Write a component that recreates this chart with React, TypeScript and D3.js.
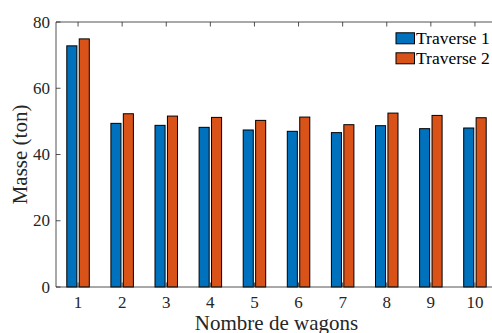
import React from "react";
import * as d3 from "d3";

const categories = [1, 2, 3, 4, 5, 6, 7, 8, 9, 10];
const traverse1 = [72.8, 49.4, 48.8, 48.2, 47.4, 47.0, 46.6, 48.7, 47.8, 48.0];
const traverse2 = [74.9, 52.3, 51.6, 51.2, 50.3, 51.3, 49.0, 52.5, 51.8, 51.1];
const seriesNames = ["Traverse 1", "Traverse 2"];
const seriesColors = ["#0072BD", "#D95319"];
const yTicks = [0, 20, 40, 60, 80];

const W = 492;
const H = 333;
const left = 56;
const right = 497;
const top = 22;
const bottom = 287;
const FONT = '"Liberation Serif", "Times New Roman", Times, serif';
const AX = "#262626";

export default function App() {
  const x = d3.scaleLinear().domain([0.5, 10.5]).range([left, right]);
  const y = d3.scaleLinear().domain([0, 80]).range([bottom, top]);
  const unit = x(2) - x(1);
  const inner = d3
    .scaleBand<string>()
    .domain(seriesNames)
    .range([-0.255 * unit, 0.255 * unit])
    .paddingInner(0.19);
  const data = [traverse1, traverse2];
  const tl = 4.5;

  return (
    <svg
      width={W}
      height={H}
      style={{ position: "absolute", left: 0, top: 0, display: "block", fontFamily: FONT }}
    >
      <rect x={0} y={0} width={W} height={H} fill="#fff" />
      {data.map((vals, si) =>
        vals.map((v, i) => (
          <rect
            key={`b${si}-${i}`}
            x={x(categories[i]) + (inner(seriesNames[si]) as number)}
            y={y(v)}
            width={inner.bandwidth()}
            height={y(0) - y(v)}
            fill={seriesColors[si]}
            stroke="#000"
            strokeWidth={1}
          />
        ))
      )}
      <g stroke={AX} strokeWidth={0.8} fill="none">
        <line x1={left} x2={right} y1={bottom} y2={bottom} />
        <line x1={left} x2={right} y1={top} y2={top} />
        <line x1={left} x2={left} y1={top} y2={bottom} />
        <line x1={right} x2={right} y1={top} y2={bottom} />
        {categories.map((c) => (
          <g key={`xt${c}`}>
            <line x1={x(c)} x2={x(c)} y1={bottom} y2={bottom - tl} />
            <line x1={x(c)} x2={x(c)} y1={top} y2={top + tl} />
          </g>
        ))}
        {yTicks.map((t) => (
          <g key={`yt${t}`}>
            <line x1={left} x2={left + tl} y1={y(t)} y2={y(t)} />
            <line x1={right} x2={right - tl} y1={y(t)} y2={y(t)} />
          </g>
        ))}
      </g>
      <g fill={AX} fontSize={17} style={{ fontFamily: FONT }}>
        {categories.map((c) => (
          <text key={`xl${c}`} x={x(c)} y={307.5} textAnchor="middle">
            {c}
          </text>
        ))}
        {yTicks.map((t) => (
          <text
            key={`yl${t}`}
            x={50}
            y={y(t)}
            textAnchor="end"
            dominantBaseline="central"
          >
            {t}
          </text>
        ))}
      </g>
      <text
        x={(left + right) / 2}
        y={329.5}
        textAnchor="middle"
        fontSize={21}
        fill={AX}
        style={{ fontFamily: FONT }}
      >
        Nombre de wagons
      </text>
      <text
        transform={`translate(27, ${(top + bottom) / 2}) rotate(-90)`}
        textAnchor="middle"
        fontSize={21}
        fill={AX}
        style={{ fontFamily: FONT }}
      >
        Masse (ton)
      </text>
      {seriesNames.map((s, i) => {
        const cy = 38.3 + i * 20;
        return (
          <g key={`lg${i}`}>
            <rect
              x={396}
              y={cy - 5.5}
              width={18.5}
              height={11}
              fill={seriesColors[i]}
              stroke="#000"
              strokeWidth={1}
            />
            <text
              x={416}
              y={cy}
              dominantBaseline="central"
              fontSize={17.5}
              fill="#000"
              style={{ fontFamily: FONT }}
            >
              {s}
            </text>
          </g>
        );
      })}
    </svg>
  );
}
